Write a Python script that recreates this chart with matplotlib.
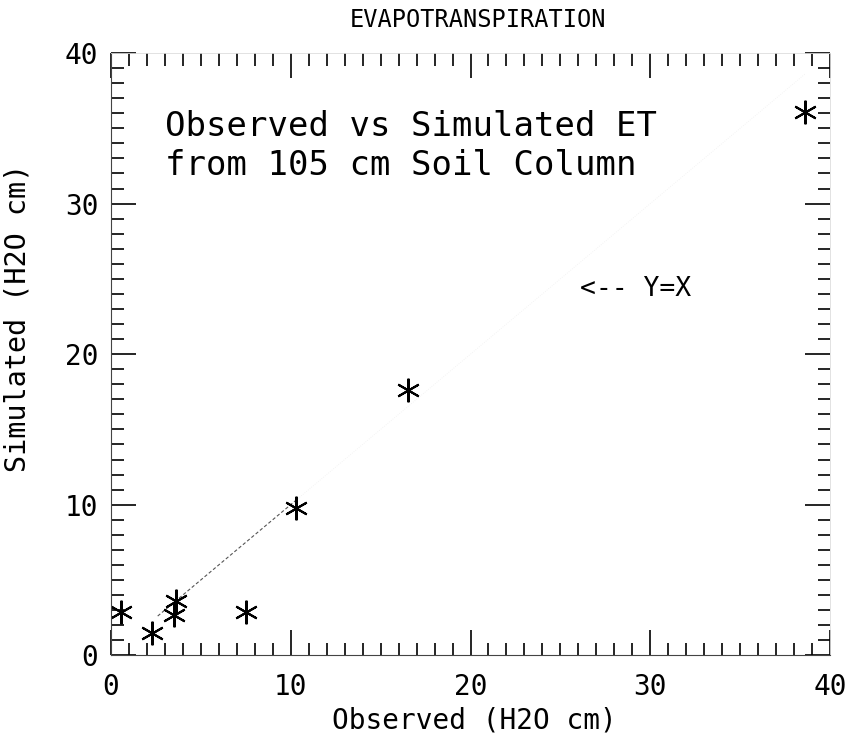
import matplotlib
matplotlib.use('Agg')
import matplotlib.pyplot as plt
from matplotlib.ticker import MultipleLocator

# observed vs simulated evapotranspiration (cm of water)
observed = [0.55, 2.3, 3.5, 3.6, 7.5, 10.3, 16.5, 38.6]
simulated = [2.9, 1.5, 2.7, 3.6, 2.9, 9.8, 17.6, 36.1]

# the 1:1 line, only a short piece of it is dark on the plot
line_x = [2.6, 10.3]
faint_x = [10.3, 38.6]

ticks = [0, 10, 20, 30, 40]
tick_labels = ['0', '10', '20', '30', '40']

font = 'DejaVu Sans Mono'
plt.rcParams['font.family'] = [font, 'DejaVu Sans']

fig = plt.figure(figsize=(8.47, 7.37), dpi=100)
ax = fig.add_axes([0.131, 0.111, 0.849, 0.817])

# y = x line
ax.plot(line_x, line_x, color='#555555', lw=0.8, ls=(0, (3, 2)))
ax.plot(faint_x, faint_x, color='#f0f0f0', lw=0.6, ls=':')

# asterisk markers
ax.plot(observed, simulated, ls='none', marker=(6, 2, 0), markersize=17,
        markeredgewidth=1.5, color='black')

ax.set_xlim(0, 40)
ax.set_ylim(0, 40)

ax.set_xticks(ticks)
ax.set_xticklabels(tick_labels)
ax.set_yticks(ticks)
ax.set_yticklabels(tick_labels)
ax.xaxis.set_minor_locator(MultipleLocator(1))
ax.yaxis.set_minor_locator(MultipleLocator(1))

ax.tick_params(which='both', direction='in', top=True, right=True,
               color='black', width=1.2)
ax.tick_params(which='major', length=18)
ax.tick_params(which='minor', length=9)
ax.tick_params(axis='x', which='major', labelsize=20, pad=13)
ax.tick_params(axis='y', which='major', labelsize=20, pad=9)

# plotter frame is barely drawn
for side in ['top', 'right']:
    ax.spines[side].set_color('#dddddd')
    ax.spines[side].set_linewidth(0.6)
for side in ['bottom', 'left']:
    ax.spines[side].set_color('#444444')
    ax.spines[side].set_linewidth(0.8)

ax.set_xlabel('Observed (H2O cm)', fontsize=20)
ax.xaxis.set_label_coords(0.505, -0.085)
ax.set_ylabel('Simulated (H2O cm)', fontsize=20.5)
ax.yaxis.set_label_coords(-0.11, 0.56)

ax.text(0.51, 1.035, 'EVAPOTRANSPIRATION', transform=ax.transAxes,
        ha='center', va='bottom', fontsize=17)

ax.text(3.0, 35.1, 'Observed vs Simulated ET', fontsize=24.5, va='center')
ax.text(3.0, 32.5, 'from 105 cm Soil Column', fontsize=24.5, va='center')
ax.text(26.1, 24.3, '<-- Y=X', fontsize=19, va='center')

fig.savefig('out.png', dpi=100)
